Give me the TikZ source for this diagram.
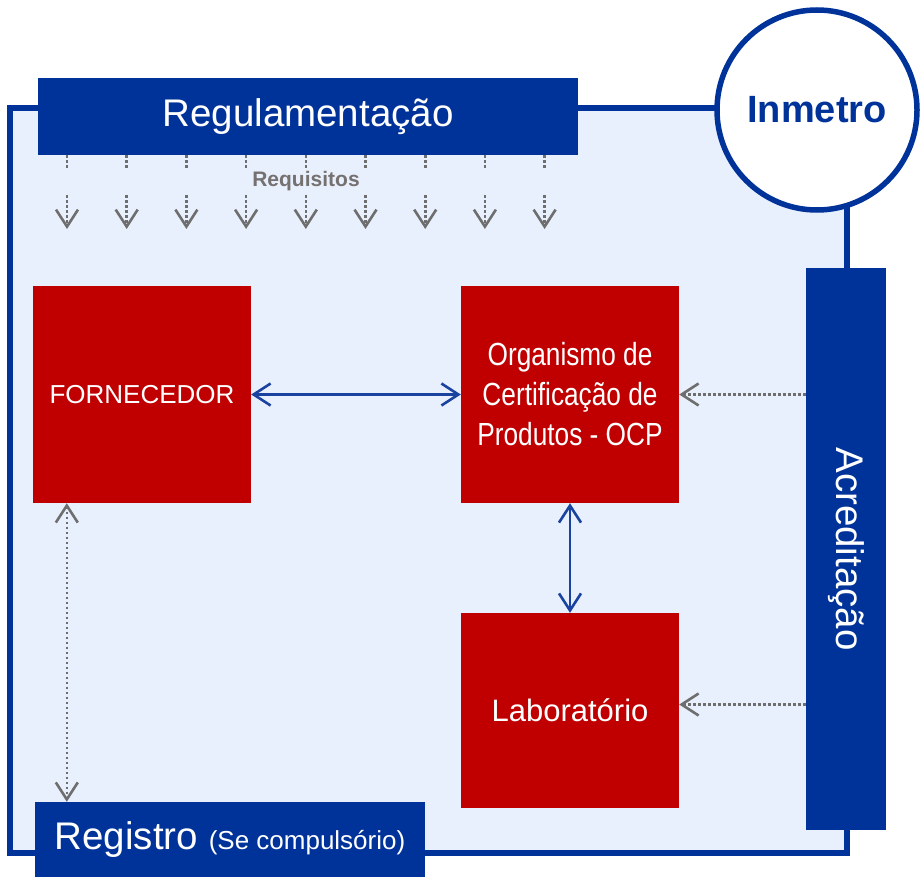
\documentclass[tikz,border=0pt]{standalone}
\usepackage{fontspec}
\setmainfont{Liberation Sans}
\newfontfamily\narrowfont[FakeStretch=0.82]{Liberation Sans}
\usetikzlibrary{arrows.meta}

\definecolor{inblue}{HTML}{003399}
\definecolor{inred}{HTML}{C00000}
\definecolor{inbg}{HTML}{E9F0FD}
\definecolor{ingray}{HTML}{6E6E6E}
\definecolor{intext}{HTML}{767171}
\definecolor{inlink}{HTML}{1A43A0}

\tikzset{
  bar/.style={fill=inblue, text=white, inner sep=0pt},
  entity/.style={fill=inred, text=white, minimum width=218pt, inner sep=0pt, align=center},
  barb/.tip={Straight Barb[length=17pt,width=22pt]},
  link/.style={draw=inlink, line width=2.6pt, barb-barb},
  hint/.style={draw=ingray, line width=2.6pt, dash pattern=on 2.4pt off 2.6pt, -barb},
  hintboth/.style={hint, barb-barb}
}

\begin{document}
\begin{tikzpicture}[x=1pt, y=-1pt]
    \useasboundingbox (0,0) rectangle (920,877);

    % frame
    \draw[draw=inblue, fill=inbg, line width=5.5pt] (10,108) rectangle (847,853);

    \node[bar, minimum width=540pt, minimum height=77pt, font=\fontsize{38.5}{46}\selectfont] (reg) at (308,116.5) {Regulamentação};
    \node[circle, draw=inblue, fill=white, line width=5.5pt, minimum size=200pt, inner sep=0pt,
          text=inblue, font=\bfseries\fontsize{38}{46}\selectfont] (inmetro) at (817,110) {Inmetro};

    % requisitos
    \foreach \i in {0,...,8} {
        \coordinate (req\i) at (67+59.7*\i,229);
        \draw[hint] (req\i |- reg.south) -- (req\i);
    }
    \node[fill=inbg, minimum width=520pt, minimum height=23pt, inner sep=0pt,
          text=intext, font=\bfseries\fontsize{21}{24}\selectfont] (req) at (306,181.5) {Requisitos};

    \node[entity, minimum height=217pt, font=\fontsize{26}{30}\selectfont] (forn) at (142,394.5) {FORNECEDOR};
    \node[entity, minimum height=217pt, font=\narrowfont\fontsize{32}{40}\selectfont] (ocp) at (570,394.5) {Organismo de\\Certificação de\\Produtos - OCP};
    \node[entity, minimum height=195pt, font=\fontsize{31}{36}\selectfont] (lab) at (570,710.5) {Laboratório};

    % rotated: acr.south is the left side
    \node[bar, rotate=-90, minimum width=562pt, minimum height=80pt, font=\fontsize{38.5}{46}\selectfont] (acr) at (846,549) {Acreditação};
    \node[bar, minimum width=390pt, minimum height=75pt, font=\fontsize{38.5}{46}\selectfont] (regis) at (230,839.5) {Registro {\fontsize{26}{30}\selectfont(Se compulsório)}};

    \draw[link] (forn) -- (ocp);
    \draw[link] (ocp) -- (lab);

    \draw[hint] (ocp -| acr.south) -- (ocp);
    \coordinate (labin) at ([yshift=6pt]lab.east);
    \draw[hint] (labin -| acr.south) -- (labin);

    \coordinate (fornout) at ([xshift=34pt]forn.south west);
    \draw[hintboth] (fornout) -- (fornout |- regis.north);
\end{tikzpicture}
\end{document}
